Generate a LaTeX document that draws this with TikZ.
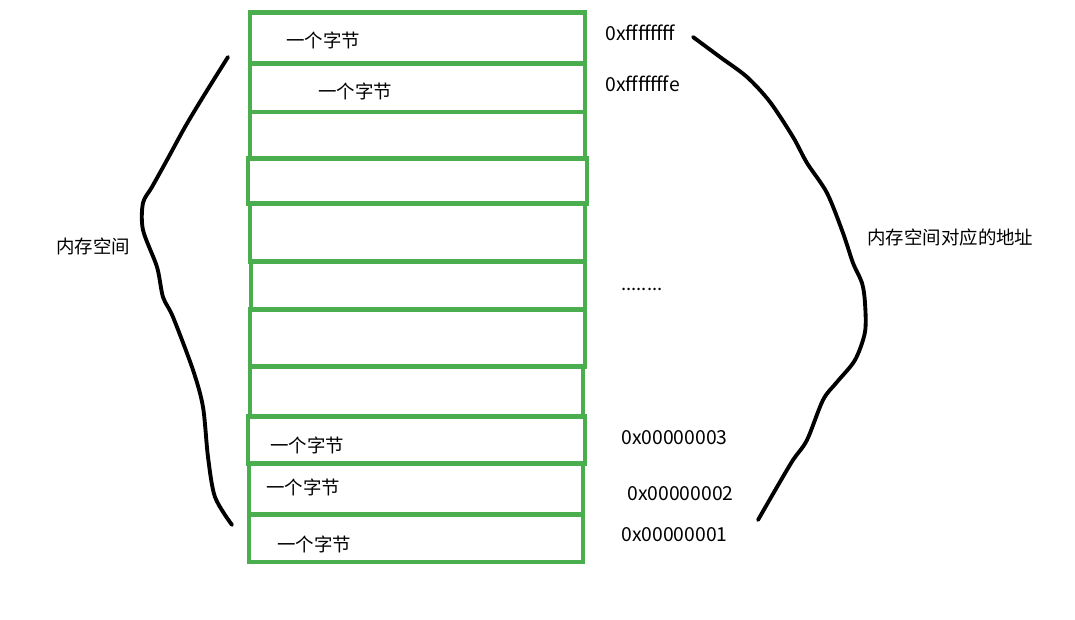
\documentclass[tikz,border=0pt]{standalone}
\usepackage{fontspec}
\newfontfamily\cjk{Noto Sans CJK SC}
\definecolor{cellgreen}{RGB}{74,174,79}
\tikzset{
    cell/.style={draw=cellgreen, line width=2.8pt},
    brace/.style={draw=black, line width=2.2pt, line cap=round, line join=round},
    lbl/.style={anchor=west, inner sep=0pt, font=\cjk\fontsize{10.5}{12}\selectfont},
    hex/.style={lbl, font=\cjk\fontsize{11}{13}\selectfont},
}
\begin{document}
\begin{tikzpicture}[x=0.02cm, y=-0.02cm]
    \useasboundingbox (0,0) rectangle (1075,619);
    % celije memorije, svaka jedan bajt
    \foreach \xa/\ya/\xb/\yb in {250/12.5/585/63.5, 250/63.5/585/112, 250/112/585/158.5,
        248/158.5/587/203.5, 250/203.5/585/261.5, 251/261.5/585/309.5, 250/309.5/585/366.5,
        250/366.5/583/416.5, 248/416.5/585/463.5, 249/463.5/583/514.5, 249/514.5/583/562}{
        \draw [cell] (\xa,\ya) rectangle (\xb,\yb);
    }
    % tekst u celijama
    \node [lbl] (b1) at (286,40)  {一个字节};
    \node [lbl] (b2) at (318,91)  {一个字节};
    \node [lbl] (b9) at (270,445) {一个字节};
    \node [lbl] (b10) at (266,487) {一个字节};
    \node [lbl] (b11) at (277,544) {一个字节};
    % adrese
    \node [hex] (aff) at (605,33)  {0xffffffff};
    \node [hex] (afe) at (605,84)  {0xfffffffe};
    \node [lbl] (dots) at (621,289) {........};
    \node [hex] (a3) at (621,438) {0x00000003};
    \node [hex] (a2) at (627,494) {0x00000002};
    \node [hex] (a1) at (621,535) {0x00000001};
    % zagrade i natpisi
    \draw [brace] plot[smooth, tension=0.5] coordinates {(228,57) (203,97) (185,127) (167,160)
        (152,187) (143,203) (143,230) (157,267) (163,297) (173,317) (193,370) (203,407)
        (208,457) (215,497) (232,525)};
    \node [lbl] (mem) at (56,246) {内存空间};
    \draw [brace] plot[smooth, tension=0.5] coordinates {(693,37) (720,57) (747,77) (770,102)
        (793,137) (807,163) (827,193) (843,233) (853,263) (862,283) (865,303) (865,332)
        (855,360) (837,382) (823,400) (807,440) (793,460) (777,487) (758,520)};
    \node [lbl] (addr) at (867,237) {内存空间对应的地址};
\end{tikzpicture}
\end{document}
